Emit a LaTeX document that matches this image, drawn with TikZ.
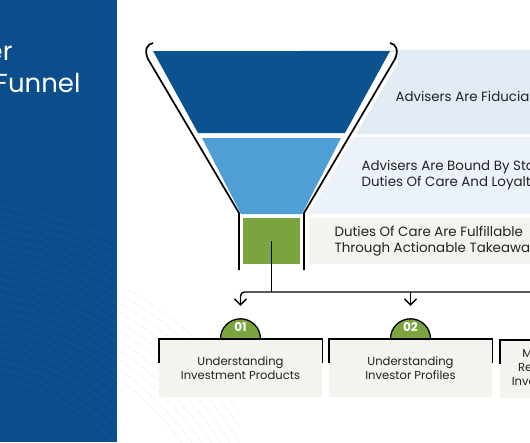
\documentclass[tikz,border=0pt]{standalone}
\usepackage{fontspec}
\setmainfont{Poppins}
\usetikzlibrary{arrows.meta,positioning}

\definecolor{panelblue}{HTML}{0C4E8D}
\definecolor{topblue}{HTML}{0B5291}
\definecolor{midblue}{HTML}{4F9ED6}
\definecolor{leafgreen}{HTML}{7BA441}
\definecolor{bandone}{HTML}{E2EAF3}
\definecolor{bandtwo}{HTML}{EBF2F9}
\definecolor{cardbg}{HTML}{F2F5ED}
\definecolor{textgray}{HTML}{222222}

\begin{document}
\begin{tikzpicture}[x=1pt,y=-1pt,
    arrow/.style={-{Straight Barb[length=6pt,width=12pt]}, line width=1.4pt},
    outline/.style={line width=1.7pt, line join=round},
    bandtext/.style={font=\fontsize{13.4}{16}\selectfont, text=textgray, anchor=west, align=left},
    card/.style={fill=cardbg, minimum width=163pt, minimum height=58pt, inner sep=0pt,
        font=\fontsize{11.6}{14}\selectfont, text=textgray, align=center},
    tab/.style={fill=leafgreen, draw=black, line width=1.3pt},
    tablabel/.style={font=\fontsize{12}{12}\selectfont\bfseries, text=white, inner sep=0pt}
]
\useasboundingbox (0,0) rectangle (530,442);
\clip (0,0) rectangle (530,442);

% Left panel with title
\fill[panelblue] (0,0) rectangle (117,442);
\begin{scope}
  \clip (0,0) rectangle (117,442);
  \foreach \r in {250,258,...,420}
    \draw[white, opacity=0.05, line width=0.6pt] (-60,620) circle[radius=\r pt];
\end{scope}
\begin{scope}
  \clip (117,290) rectangle (240,442);
  \foreach \r in {300,308,...,380}
    \draw[midblue, opacity=0.12, line width=0.6pt] (-60,620) circle[radius=\r pt];
\end{scope}
\node[font=\fontsize{26}{30}\selectfont, text=white, anchor=base east] (title1) at (16,60) {er};
\node[font=\fontsize{26}{30}\selectfont, text=white, anchor=base east] (title2) at (84,92) {Funnel};

% Bands behind the funnel
\fill[bandone] (300,50) rectangle (530,134);
\fill[bandtwo] (300,137) rectangle (530,214);
\fill[cardbg] (300,218) rectangle (530,264);

% White halo round the funnel
\fill[white] (147,52) -- (239,213) -- (239,272) -- (304,272) -- (304,213) -- (396,52) -- cycle;
\draw[white, line width=9pt] (148,59) -- (239,213) -- (239,270);
\draw[white, line width=9pt] (395,59) -- (304,213) -- (304,270);

% Funnel levels
\fill[topblue] (153,51) -- (390,51) -- (345,133) -- (198,133) -- cycle;
\fill[midblue] (202,138) -- (341,138) -- (302,214) -- (241,214) -- cycle;
\node[fill=leafgreen, minimum width=57pt, minimum height=46pt, inner sep=0pt] (lvl3) at (271.5,241) {};

% Funnel outline
\draw[outline] (153,43) .. controls (147,44) and (144,50) .. (148,59) -- (239,213) -- (239,270);
\draw[outline] (390,43) .. controls (396,44) and (399,50) .. (395,59) -- (304,213) -- (304,270);

% Band labels
\node[bandtext] (lab1) at (392,96) {Advisers Are Fiduciaries};
\node[bandtext] (lab2) at (358,175) {Advisers Are Bound By Statutory\\Duties Of Care And Loyalty};
\node[bandtext] (lab3) at (331,241) {Duties Of Care Are Fulfillable\\Through Actionable Takeaways};

% Cards
\node[card] (card1) at (240.5,368) {Understanding\\Investment Products};
\node[card] (card2) at (410.5,368) {Understanding\\Investor Profiles};
\node[card] (card3) at (581.5,369) {Making Suitable And\\Reasonable, Informed\\Investment Suggestions};

\foreach \c/\n in {card1/01,card2/02,card3/03}{
  \draw[line width=1.4pt] ([yshift=-24pt]\c.north west) -- (\c.north west) -- (\c.north east) -- ([yshift=-24pt]\c.north east);
  \draw[tab] ([xshift=-20pt]\c.north) arc[start angle=180, end angle=0, radius=20pt] -- cycle;
  \node[tablabel, above=7pt of \c.north] (tab-\c) {\n};
}

% Connectors
\coordinate (bus) at (271.5,292);
\draw[line width=1.4pt] (lvl3.center) -- (bus);
\draw[arrow, rounded corners=4pt] (bus) -| ([yshift=33pt]card1.north);
\draw[arrow, rounded corners=4pt] (bus) -| ([yshift=33pt]card3.north);
\draw[arrow] (bus -| card2.north) -- ([yshift=33pt]card2.north);

\end{tikzpicture}
\end{document}
